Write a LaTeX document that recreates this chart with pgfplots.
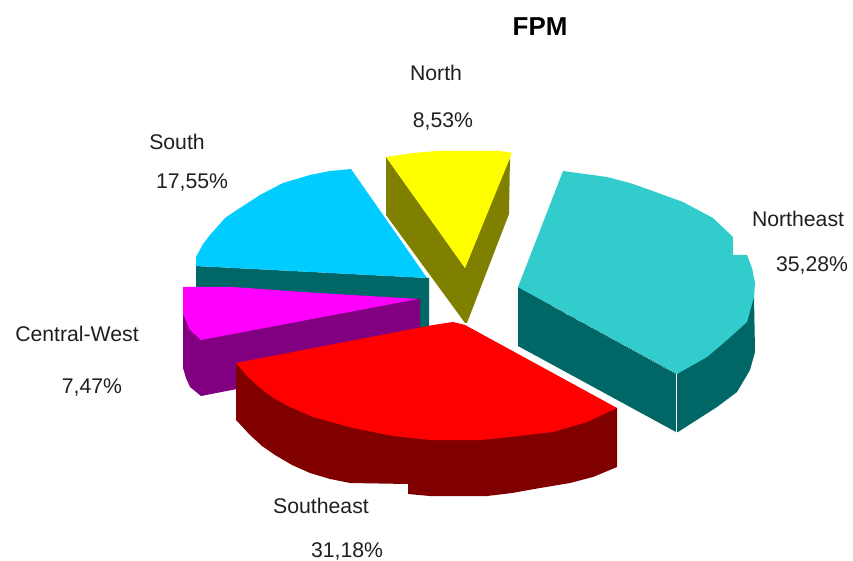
\documentclass[border=0pt]{standalone}
\usepackage{pgfplots}
\pgfplotsset{compat=1.18}
\usepackage{fontspec}
\setmainfont{Liberation Sans}
\definecolor{cBlue}{HTML}{00CCFF}
\definecolor{cTeal}{HTML}{006666}
\definecolor{cMag}{HTML}{FF00FF}
\definecolor{cPur}{HTML}{800080}
\definecolor{cRed}{HTML}{FF0000}
\definecolor{cDark}{HTML}{800000}
\definecolor{cCyan}{HTML}{33CCCC}
\definecolor{cYel}{HTML}{FFFF00}
\definecolor{cOli}{HTML}{808000}
\tikzset{lbl/.style={font=\fontsize{21.3}{24}\selectfont, text=black!88, inner sep=0pt}}
\begin{document}
\begin{tikzpicture}[x=1bp,y=1bp]
\useasboundingbox (0,0) rectangle (853,561);
\begin{axis}[
  at={(0,0)}, anchor=south west,
  scale only axis, width=853bp, height=561bp,
  xmin=0, xmax=853, ymin=0, ymax=561, y dir=reverse,
  axis lines=none, clip=false,
]
% South
\addplot[fill=cTeal, draw=none] coordinates {(196,266)(429,278)(429,330)(196,295)} --cycle;
\addplot[fill=cBlue, draw=none] coordinates {(196,266)(196,257)(203,244)(210,235)(225,218)(240,208)(260,195)(283,183)(310,175)(330,171)(351,169)(427,278)} --cycle;
% Central-West
\addplot[fill=cPur, draw=none] coordinates {(183,287)(420,299)(420,345)(237,389)(201,396)(190,387)(186,378)(183,368)} --cycle;
\addplot[fill=cMag, draw=none] coordinates {(183,287)(233,287)(303,292)(418,299)(201,340)(190,330)(183,314)} --cycle;
% North
\addplot[fill=cOli, draw=none] coordinates {(386,157)(465,268)(465,323)(386,215)} --cycle;
\addplot[fill=cOli, draw=none] coordinates {(510,156)(509,214)(467,323)(465,323)(465,268)} --cycle;
\addplot[fill=cYel, draw=none] coordinates {(386,157)(413,153)(437,151)(470,151)(500,151)(512,153)(465,268)} --cycle;
% Southeast
\addplot[fill=cDark, draw=none] coordinates {(236,363)(236,420)(250,435)(262,446)(275,455)(292,465)(310,473)(330,479)(350,483)(408,484)(408,494)(430,496)(487,496)(512,493)(540,488)(570,483)(593,477)(617,467)(617,408)} --cycle;
\addplot[fill=cRed, draw=none] coordinates {(236,363)(433,325)(453,322)(465,325)(617,408)(587,422)(553,432)(510,437)(480,440)(430,440)(393,436)(353,428)(313,417)(288,406)(272,397)(260,388)(247,376)} --cycle;
% Northeast
\addplot[fill=cTeal, draw=none] coordinates {(518,287)(518,346)(676,432)(678,432)(717,407)(737,392)(750,370)(755,352)(754,297)(677,374)} --cycle;
\addplot[fill=cCyan, draw=none] coordinates {(563,171)(585,174)(607,177)(630,183)(650,190)(683,202)(713,218)(733,237)(733,255)(747,255)(752,268)(755,283)(754,297)(747,322)(727,340)(707,357)(677,374)(518,287)} --cycle;
\addplot[white, line width=1pt] coordinates {(676.5,374)(676.5,432)};
\addplot[white, line width=0.5pt, dotted] coordinates {(552,306)(676,374)};
% Texts
\node[font=\fontsize{26}{28}\selectfont\bfseries, text=black, inner sep=0pt] at (axis cs:540,27) {FPM};
\node[lbl] at (axis cs:436,73) {North};
\node[lbl] at (axis cs:443,121) {8,53\%};
\node[lbl] at (axis cs:177,142) {South};
\node[lbl] at (axis cs:192,183) {17,55\%};
\node[lbl] at (axis cs:77,334) {Central-West};
\node[lbl] at (axis cs:92,387) {7,47\%};
\node[lbl] at (axis cs:321,506) {Southeast};
\node[lbl] at (axis cs:347,551) {31,18\%};
\node[lbl] at (axis cs:798,219) {Northeast};
\node[lbl] at (axis cs:812,265) {35,28\%};
\end{axis}
\end{tikzpicture}
\end{document}
